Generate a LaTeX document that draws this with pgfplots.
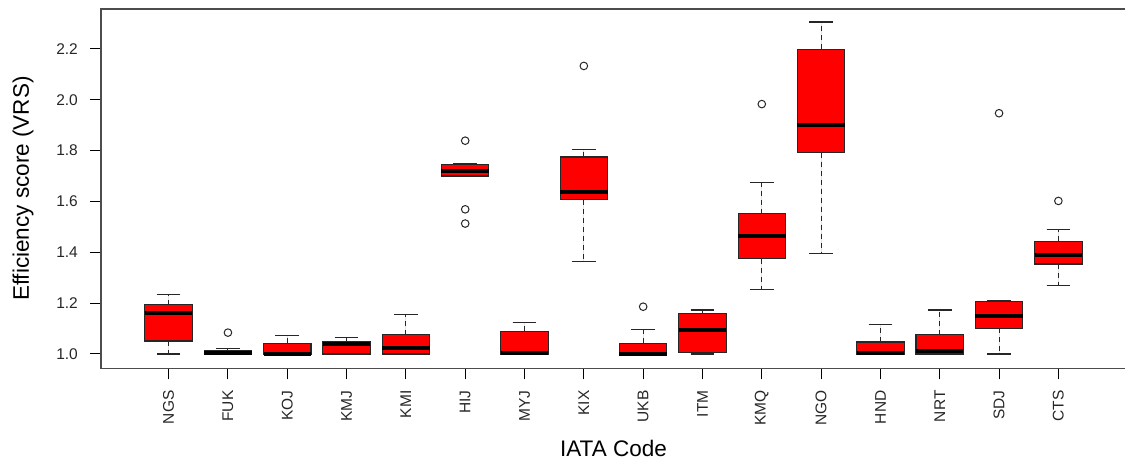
\documentclass[border=0pt]{standalone}
\usepackage{fontspec}
\setmainfont{Liberation Sans}
\usepackage{pgfplots}
\pgfplotsset{compat=1.18}
\usepgfplotslibrary{statistics}
\pgfplotsset{
  rbox/.style={
    boxplot prepared={draw direction=y, #1},
    fill=red, draw=black!85, line width=1.1pt, solid,
    mark=o, mark size=3.8pt, mark options={draw=black!85, fill=none, line width=1pt, solid},
  },
}
\begin{document}
\begin{tikzpicture}
\useasboundingbox (0,0) rectangle (1125pt,460pt);
\begin{axis}[
  at={(101pt,91.7pt)}, anchor=south west,
  width=1025pt, height=359.3pt, scale only axis,
  xmin=-0.14, xmax=17.14, ymin=0.9437, ymax=2.357,
  axis line style={black!70, line width=1.3pt},
  tick style={black, line width=1pt},
  tick align=outside, major tick length=11pt,
  xtick pos=bottom, ytick pos=left,
  xtick={1,...,16},
  xticklabels={NGS,FUK,KOJ,KMJ,KMI,HIJ,MYJ,KIX,UKB,ITM,KMQ,NGO,HND,NRT,SDJ,CTS},
  xticklabel style={rotate=90, anchor=east, font=\fontsize{15.5}{18}\selectfont, inner sep=0pt, xshift=-11pt, text=black!85},
  ytick={1.0,1.2,1.4,1.6,1.8,2.0,2.2},
  yticklabel style={/pgf/number format/fixed, /pgf/number format/precision=1, /pgf/number format/fixed zerofill, font=\fontsize{15.5}{18}\selectfont, inner sep=0pt, xshift=-12pt, text=black!85},
  /pgf/number format/assume math mode=true,
  xlabel={IATA Code},
  ylabel={Efficiency score (VRS)},
  xlabel style={at={(axis description cs:0.5,-0.222)}, anchor=center, font=\fontsize{22.5}{26}\selectfont},
  ylabel style={at={(axis description cs:-0.0761,0.5)}, anchor=center, font=\fontsize{22.5}{26}\selectfont},
  boxplot/draw direction=y,
  boxplot/box extend=0.8,
  boxplot/whisker extend=0.4,
  boxplot/every median/.style={line width=4pt, black},
  boxplot/draw/lower whisker/.code={%
    \draw[black!85, line width=1.1pt, dash pattern=on 5pt off 4pt]
      (boxplot box cs:\pgfplotsboxplotvalue{lower quartile},0.5)
      -- (boxplot box cs:\pgfplotsboxplotvalue{lower whisker},0.5);
    \draw[black!85, line width=1.1pt, solid]
      (boxplot whisker cs:\pgfplotsboxplotvalue{lower whisker},0)
      -- (boxplot whisker cs:\pgfplotsboxplotvalue{lower whisker},1);
  },
  boxplot/draw/upper whisker/.code={%
    \draw[black!85, line width=1.1pt, dash pattern=on 5pt off 4pt]
      (boxplot box cs:\pgfplotsboxplotvalue{upper quartile},0.5)
      -- (boxplot box cs:\pgfplotsboxplotvalue{upper whisker},0.5);
    \draw[black!85, line width=1.1pt, solid]
      (boxplot whisker cs:\pgfplotsboxplotvalue{upper whisker},0)
      -- (boxplot whisker cs:\pgfplotsboxplotvalue{upper whisker},1);
  },
]
% NGS
\addplot[rbox={draw position=1, lower whisker=1.000, lower quartile=1.051, median=1.160, upper quartile=1.193, upper whisker=1.233}] coordinates {};
% FUK
\addplot[rbox={draw position=2, lower whisker=1.000, lower quartile=1.000, median=1.003, upper quartile=1.015, upper whisker=1.020}] table[row sep=\\, y index=0] {data\\ 1.084\\};
% KOJ
\addplot[rbox={draw position=3, lower whisker=1.000, lower quartile=1.000, median=1.001, upper quartile=1.043, upper whisker=1.071}] coordinates {};
% KMJ
\addplot[rbox={draw position=4, lower whisker=1.000, lower quartile=1.000, median=1.041, upper quartile=1.047, upper whisker=1.064}] coordinates {};
% KMI
\addplot[rbox={draw position=5, lower whisker=1.000, lower quartile=1.000, median=1.024, upper quartile=1.075, upper whisker=1.155}] coordinates {};
% HIJ
\addplot[rbox={draw position=6, lower whisker=1.700, lower quartile=1.700, median=1.721, upper quartile=1.746, upper whisker=1.750}] table[row sep=\\, y index=0] {data\\ 1.839\\ 1.569\\ 1.513\\};
% MYJ
\addplot[rbox={draw position=7, lower whisker=1.000, lower quartile=1.000, median=1.005, upper quartile=1.089, upper whisker=1.123}] coordinates {};
% KIX
\addplot[rbox={draw position=8, lower whisker=1.363, lower quartile=1.606, median=1.636, upper quartile=1.775, upper whisker=1.806}] table[row sep=\\, y index=0] {data\\ 2.133\\};
% UKB
\addplot[rbox={draw position=9, lower whisker=1.000, lower quartile=1.000, median=1.000, upper quartile=1.042, upper whisker=1.098}] table[row sep=\\, y index=0] {data\\ 1.186\\};
% ITM
\addplot[rbox={draw position=10, lower whisker=1.000, lower quartile=1.005, median=1.093, upper quartile=1.160, upper whisker=1.173}] coordinates {};
% KMQ
\addplot[rbox={draw position=11, lower whisker=1.252, lower quartile=1.374, median=1.465, upper quartile=1.551, upper whisker=1.673}] table[row sep=\\, y index=0] {data\\ 1.983\\};
% NGO
\addplot[rbox={draw position=12, lower whisker=1.396, lower quartile=1.792, median=1.900, upper quartile=2.199, upper whisker=2.306}] coordinates {};
% HND
\addplot[rbox={draw position=13, lower whisker=1.000, lower quartile=1.000, median=1.003, upper quartile=1.047, upper whisker=1.117}] coordinates {};
% NRT
\addplot[rbox={draw position=14, lower whisker=1.000, lower quartile=1.000, median=1.013, upper quartile=1.075, upper whisker=1.173}] coordinates {};
% SDJ
\addplot[rbox={draw position=15, lower whisker=1.000, lower quartile=1.101, median=1.149, upper quartile=1.205, upper whisker=1.212}] table[row sep=\\, y index=0] {data\\ 1.947\\};
% CTS
\addplot[rbox={draw position=16, lower whisker=1.271, lower quartile=1.354, median=1.388, upper quartile=1.443, upper whisker=1.489}] table[row sep=\\, y index=0] {data\\ 1.602\\};
\end{axis}
\end{tikzpicture}
\end{document}
